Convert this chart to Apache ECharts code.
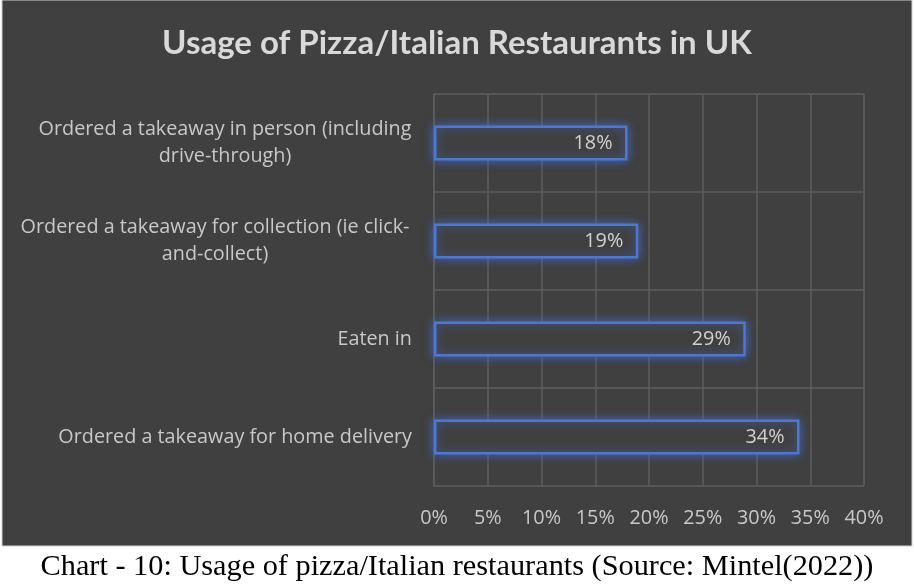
<!DOCTYPE html>
<html>
<head>
<meta charset="utf-8">
<script src="https://cdn.jsdelivr.net/npm/echarts@6/dist/echarts.min.js"></script>
<style>
html,body{margin:0;padding:0;background:#ffffff;}
#chart{width:914px;height:588px;}
</style>
</head>
<body>
<div id="chart"></div>
<script>
// Data (bottom-to-top order for ECharts category axis)
const categories = [
  "Ordered a takeaway for home delivery",
  "Eaten in",
  "Ordered a takeaway for collection (ie click-\nand-collect)",
  "Ordered a takeaway in person (including\ndrive-through)"
];
const values = [34, 29, 19, 18];
const tickLabels = ["0%","5%","10%","15%","20%","25%","30%","35%","40%"];

const chart = echarts.init(document.getElementById('chart'), null, {renderer:'canvas'});
const FONT = '"Open Sans"';
const LBL = '#c8c8c8';
const FS = 19.8;

function labelFormatter(v){
  const lines = v.split('\n');
  if (lines.length === 1) return '{s|' + v + '}';
  const key = v.indexOf('collection') >= 0 ? 'w2' : 'w1';
  return lines.map(l => '{' + key + '|' + l + '}').join('\n');
}

chart.setOption({
  backgroundColor: '#ffffff',
  animation: false,
  graphic: [
    {type:'rect', shape:{x:2, y:0, width:910, height:546}, style:{fill:'#404040', stroke:'#d0d0d0', lineWidth:1}, z:-10, silent:true},
    {type:'text', left:'center', top:552, style:{text:'Chart - 10: Usage of pizza/Italian restaurants (Source: Mintel(2022))', font:'30.3px "Liberation Serif", "Times New Roman", serif', fill:'#000000'}}
  ],
  title: {
    text: 'Usage of Pizza/Italian Restaurants in UK',
    left: 'center',
    top: 22,
    textStyle: {color:'#d9d9d9', fontFamily: 'Lato', fontWeight:'bold', fontSize:33}
  },
  grid: {left:434, right:50, top:94, bottom:102, containLabel:false},
  xAxis: {
    type:'value', min:0, max:40, interval:5,
    axisLine:{show:false}, axisTick:{show:false},
    splitLine:{show:true, lineStyle:{color:'#5e5e5e', width:1.5}},
    axisLabel:{color:LBL, fontFamily:FONT, fontSize:FS, margin:22,
      formatter: (v) => tickLabels[Math.round(v/5)]}
  },
  yAxis: {
    type:'category', data: categories,
    axisLine:{show:true, lineStyle:{color:'#5e5e5e', width:1.5}},
    axisTick:{show:false},
    splitLine:{show:true, lineStyle:{color:'#5e5e5e', width:1.5}},
    axisLabel:{
      color:LBL, fontFamily:FONT, fontSize:FS, margin:22, lineHeight:27,
      formatter: labelFormatter,
      rich:{
        s:{color:LBL, fontFamily:FONT, fontSize:FS, lineHeight:27},
        w1:{color:LBL, fontFamily:FONT, fontSize:FS, lineHeight:27, width:374, align:'center'},
        w2:{color:LBL, fontFamily:FONT, fontSize:FS, lineHeight:27, width:394, align:'center'}
      }
    }
  },
  series: [{
    type:'bar',
    data: values,
    barWidth: 35,
    itemStyle:{
      color:'#404040',
      borderColor:'#4f77cc',
      borderWidth:2.5,
      shadowColor:'rgba(70,110,220,0.8)',
      shadowBlur:10
    },
    label:{
      show:true, position:'insideRight', distance:15,
      color:'#d0d0d0', fontFamily:FONT, fontSize:FS,
      formatter: p => p.value + '%'
    }
  }]
});
</script>
</body>
</html>
